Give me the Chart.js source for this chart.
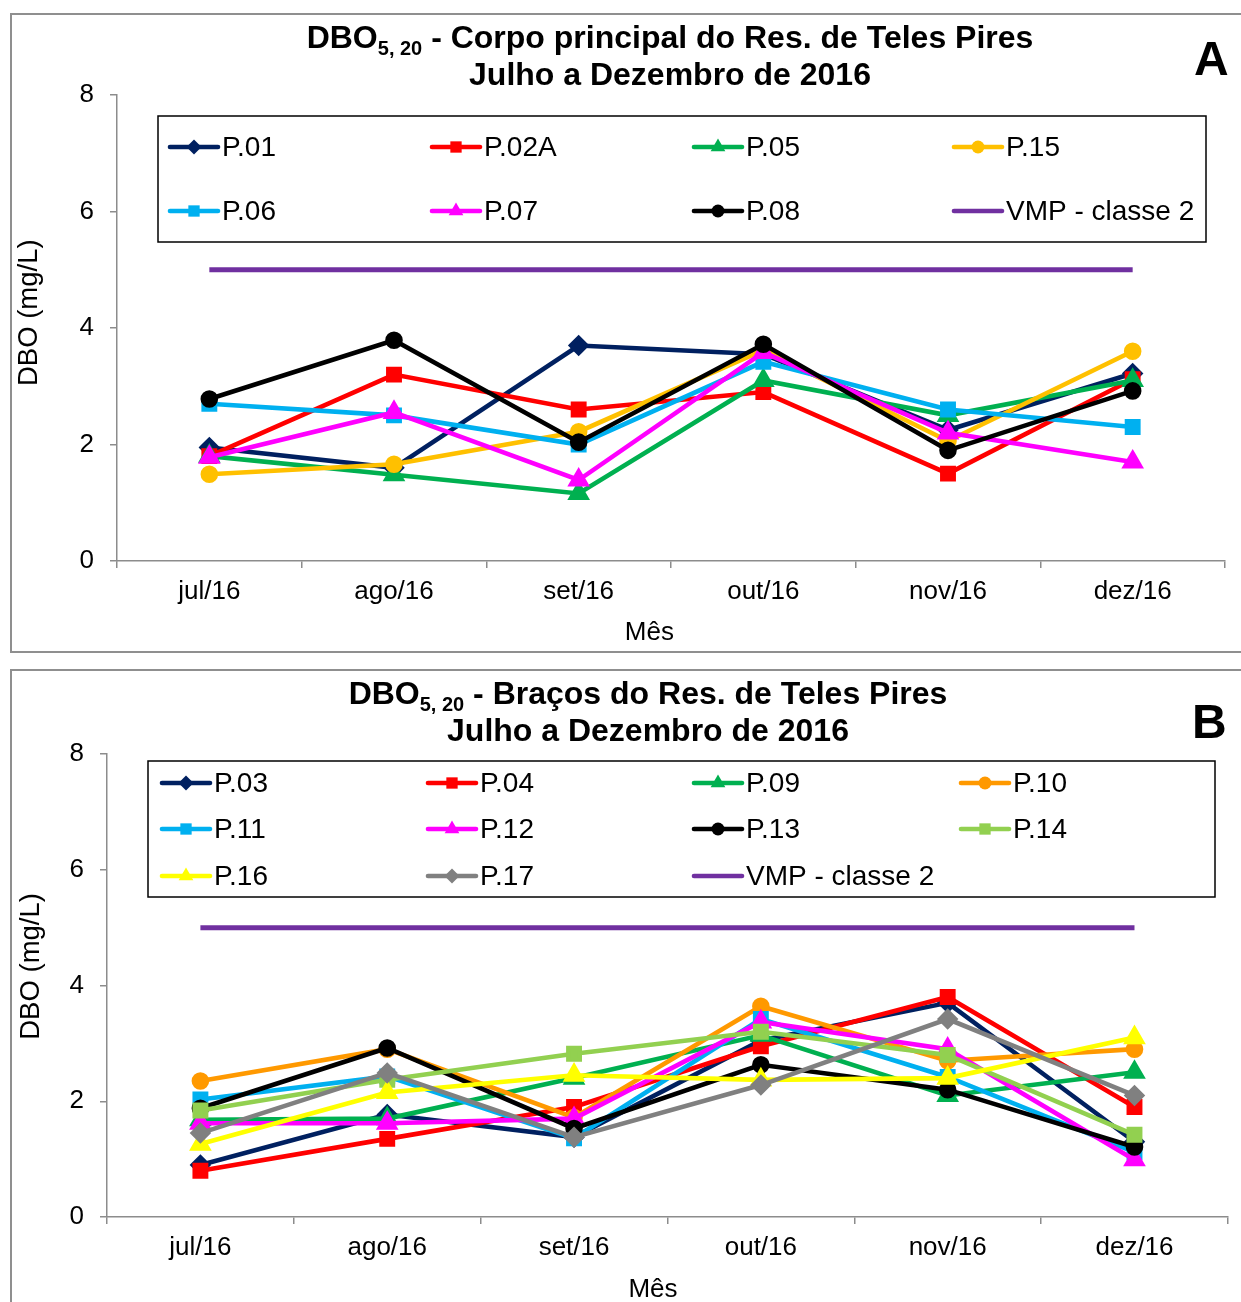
<!DOCTYPE html>
<html>
<head>
<meta charset="utf-8">
<script src="https://cdn.jsdelivr.net/npm/chart.js@4.4.0/dist/chart.umd.min.js"></script>
<style>
    body { margin: 0; width: 1241px; height: 1302px; overflow: hidden; background: #fff; position: relative;
           font-family: "Liberation Sans", Arial, sans-serif; }
    .panel { position: absolute; left: 10px; width: 1250px; border: 2px solid #8f8f8f; background: #fff; }
    #panelA { top: 13px; height: 636px; }
    #panelB { top: 669px; height: 660px; }
    .panel canvas { position: absolute; left: 0; top: 0; }
    .title { position: absolute; top: 4px; transform: translateX(-50%); white-space: nowrap; text-align: center;
             font-weight: bold; font-size: 32px; line-height: 37px; color: #000; z-index: 2; }
    .title sub { font-size: 20px; line-height: 0; vertical-align: baseline; position: relative; top: 7px; }
    .tag { position: absolute; font-weight: bold; font-size: 48px; line-height: 48px; color: #000; z-index: 2; }
</style>
</head>
<body>
<div class="panel" id="panelA">
    <canvas id="chartA" width="1229" height="636"></canvas>
    <div class="title" style="left:658px">DBO<sub>5, 20</sub> - Corpo principal do Res. de Teles Pires<br>Julho a Dezembro de 2016</div>
    <div class="tag" style="left:1182px; top:20px">A</div>
</div>
<div class="panel" id="panelB">
    <canvas id="chartB" width="1229" height="631"></canvas>
    <div class="title" style="left:636px">DBO<sub>5, 20</sub> - Braços do Res. de Teles Pires<br>Julho a Dezembro de 2016</div>
    <div class="tag" style="left:1180px; top:27px">B</div>
</div>
<script>
const months = ['jul/16', 'ago/16', 'set/16', 'out/16', 'nov/16', 'dez/16'];
const yTicks = [0, 2, 4, 6, 8];
const vmpLabel = 'VMP - classe 2';
const vmp = [5, 5, 5, 5, 5, 5];

// Chart A - corpo principal
const namesA = ['P.01', 'P.02A', 'P.05', 'P.15', 'P.06', 'P.07', 'P.08'];
const p01 = [1.95, 1.6, 3.7, 3.55, 2.25, 3.22];
const p02A = [1.8, 3.2, 2.6, 2.9, 1.5, 3.12];
const p05 = [1.8, 1.48, 1.16, 3.1, 2.5, 3.1];
const p15 = [1.49, 1.66, 2.22, 3.62, 2.06, 3.6];
const p06 = [2.7, 2.5, 2.0, 3.42, 2.6, 2.3];
const p07 = [1.78, 2.55, 1.39, 3.58, 2.2, 1.7];
const p08 = [2.78, 3.79, 2.04, 3.72, 1.9, 2.92];
const valuesA = [p01, p02A, p05, p15, p06, p07, p08];
const colorsA = ['#002060', '#FF0000', '#00B050', '#FFC000', '#00B0F0', '#FF00FF', '#000000'];
const stylesA = ['rectRot', 'rect', 'triangle', 'circle', 'rect', 'triangle', 'circle'];

// Chart B - bracos
const namesB = ['P.03', 'P.04', 'P.09', 'P.10', 'P.11', 'P.12', 'P.13', 'P.14', 'P.16', 'P.17'];
const p03 = [0.9, 1.77, 1.38, 3.05, 3.7, 1.3];
const p04 = [0.8, 1.35, 1.9, 2.95, 3.8, 1.9];
const p09 = [1.68, 1.7, 2.4, 3.14, 2.1, 2.5];
const p10 = [2.35, 2.9, 1.72, 3.64, 2.7, 2.9];
const p11 = [2.03, 2.43, 1.36, 3.42, 2.42, 1.12];
const p12 = [1.62, 1.62, 1.7, 3.37, 2.9, 0.99];
const p13 = [1.88, 2.92, 1.53, 2.63, 2.2, 1.21];
const p14 = [1.84, 2.37, 2.82, 3.2, 2.8, 1.42];
const p16 = [1.26, 2.15, 2.45, 2.37, 2.4, 3.1];
const p17 = [1.45, 2.49, 1.38, 2.28, 3.42, 2.1];
const valuesB = [p03, p04, p09, p10, p11, p12, p13, p14, p16, p17];
const colorsB = ['#002060', '#FF0000', '#00B050', '#FF9900', '#00B0F0', '#FF00FF', '#000000', '#92D050', '#FFFF00', '#808080'];
const stylesB = ['rectRot', 'rect', 'triangle', 'circle', 'rect', 'triangle', 'circle', 'rect', 'triangle', 'rectRot'];

const vmpColor = '#7030A0';
const axisColor = '#8c8c8c';
const radiusFor = { rectRot: 7.5, rect: 8, triangle: 8.5, circle: 6.5 };

Chart.defaults.font.family = '"Liberation Sans", Arial, sans-serif';
Chart.defaults.color = '#000';

// Build datasets, later series drawn on top like in Excel
function buildDatasets(names, values, colors, styles) {
    const sets = names.map((name, i) => ({
        label: name,
        data: values[i],
        borderColor: colors[i],
        backgroundColor: colors[i],
        pointBackgroundColor: colors[i],
        pointBorderColor: colors[i],
        pointStyle: styles[i],
        pointRadius: radiusFor[styles[i]],
        borderWidth: 4.6,
        tension: 0,
        order: names.length - i + 1
    }));
    sets.push({
        label: vmpLabel,
        data: vmp,
        borderColor: vmpColor,
        backgroundColor: vmpColor,
        pointRadius: 0,
        borderWidth: 5,
        order: 0
    });
    return sets;
}

// Small marker drawer for the legend box
function drawMarker(ctx, style, x, y, r, color) {
    ctx.save();
    ctx.fillStyle = color;
    ctx.beginPath();
    if (style === 'circle') {
        ctx.arc(x, y, r, 0, Math.PI * 2);
    } else if (style === 'rect') {
        const h = r * Math.SQRT1_2;
        ctx.rect(x - h, y - h, 2 * h, 2 * h);
    } else if (style === 'rectRot') {
        ctx.moveTo(x, y - r); ctx.lineTo(x + r, y); ctx.lineTo(x, y + r); ctx.lineTo(x - r, y);
    } else if (style === 'triangle') {
        ctx.moveTo(x, y - r);
        ctx.lineTo(x + r * Math.sin(Math.PI / 3), y + r * 0.5);
        ctx.lineTo(x - r * Math.sin(Math.PI / 3), y + r * 0.5);
    }
    ctx.closePath();
    ctx.fill();
    ctx.restore();
}

// Legend drawn inside the plot, Excel style grid
const boxLegend = {
    id: 'boxLegend',
    afterDraw(chart, args, opts) {
        const ctx = chart.ctx;
        ctx.save();
        ctx.fillStyle = '#fff';
        ctx.fillRect(opts.left, opts.top, opts.right - opts.left, opts.bottom - opts.top);
        ctx.strokeStyle = '#000';
        ctx.lineWidth = 1.5;
        ctx.strokeRect(opts.left, opts.top, opts.right - opts.left, opts.bottom - opts.top);
        ctx.font = '28px "Liberation Sans", Arial, sans-serif';
        ctx.textBaseline = 'middle';
        ctx.fillStyle = '#000';
        chart.data.datasets.forEach((ds, i) => {
            const x = opts.cols[i % opts.cols.length];
            const y = opts.rows[Math.floor(i / opts.cols.length)];
            ctx.strokeStyle = ds.borderColor;
            ctx.lineWidth = 4.6;
            ctx.lineCap = 'round';
            ctx.beginPath();
            ctx.moveTo(x, y);
            ctx.lineTo(x + 48, y);
            ctx.stroke();
            if (ds.pointRadius > 0) drawMarker(ctx, ds.pointStyle, x + 24, y, ds.pointRadius, ds.borderColor);
            ctx.fillStyle = '#000';
            ctx.fillText(ds.label, x + 52, y + 1);
        });
        ctx.restore();
    }
};

function makeChart(id, datasets, layout) {
    return new Chart(document.getElementById(id), {
        type: 'line',
        data: { labels: months, datasets: datasets },
        plugins: [boxLegend],
        options: {
            responsive: false,
            animation: false,
            layout: { padding: { top: layout.top, right: layout.right, left: 0, bottom: 0 } },
            plugins: {
                legend: { display: false },
                tooltip: { enabled: false },
                boxLegend: layout.legend
            },
            scales: {
                x: {
                    offset: true,
                    grid: { offset: true, drawOnChartArea: false, tickLength: 7, color: axisColor, lineWidth: 1.5 },
                    border: { color: axisColor, width: 1.5 },
                    ticks: { font: { size: 26 }, padding: 8, maxRotation: 0, autoSkip: false },
                    // trailing spaces nudge the centred title to the left, as in the original
                    title: { display: true, text: 'Mês' + ' '.repeat(layout.xShift), font: { size: 26, lineHeight: 1 },
                             padding: { top: 0, bottom: layout.xTitlePad } },
                    afterFit: s => { s.height = layout.xHeight; }
                },
                y: {
                    min: 0,
                    max: 8,
                    afterBuildTicks: s => { s.ticks = yTicks.map(v => ({ value: v })); },
                    grid: { drawOnChartArea: false, tickLength: 7, color: axisColor, lineWidth: 1.5 },
                    border: { color: axisColor, width: 1.5 },
                    ticks: { font: { size: 26 }, padding: 16 },
                    title: { display: true, text: ' '.repeat(layout.yShift) + 'DBO (mg/L)', font: { size: 27.5, lineHeight: 1 },
                             padding: { top: layout.yTitlePad, bottom: 0 } },
                    afterFit: s => { s.width = layout.yWidth; }
                }
            }
        }
    });
}

makeChart('chartA', buildDatasets(namesA, valuesA, colorsA, stylesA), {
    top: 80, right: 16, yWidth: 105, xHeight: 90, xTitlePad: 5, yTitlePad: 4, xShift: 6, yShift: 4,
    legend: { left: 146, top: 101, right: 1194, bottom: 227, cols: [158, 420, 682, 942], rows: [132, 196] }
});

makeChart('chartB', buildDatasets(namesB, valuesB, colorsB, stylesB), {
    top: 83, right: 13, yWidth: 95, xHeight: 85, xTitlePad: -1, yTitlePad: 6, xShift: 4, yShift: 5,
    legend: { left: 136, top: 90, right: 1203, bottom: 226, cols: [150, 416, 682, 949], rows: [112, 158, 205] }
});
</script>
</body>
</html>
